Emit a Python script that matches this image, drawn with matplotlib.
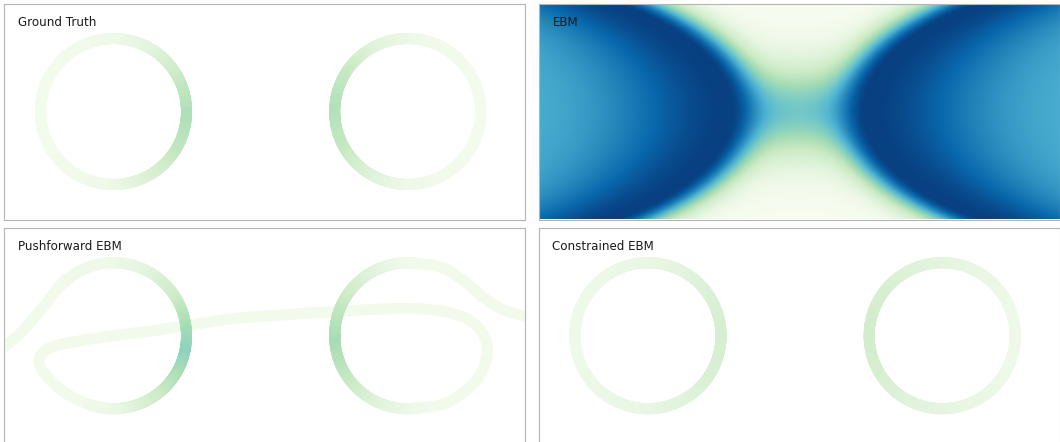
import numpy as np
import matplotlib
matplotlib.use("Agg")
import matplotlib.pyplot as plt
from matplotlib.collections import LineCollection
from matplotlib.path import Path
from matplotlib.patches import PathPatch

W, H, DPI = 1060, 442, 100
CMAP = plt.get_cmap("GnBu")

TITLES = ["Ground Truth", "EBM", "Pushforward EBM", "Constrained EBM"]

# domain / ring geometry (data units)
XLIM = (-3.5, 3.637)
YLIM = (-1.48, 1.48)
RING_CENTERS_X = [-2.0, 2.03]
RING_RADIUS = 1.0

# density level (0..1 on GnBu) around each ring, sampled at these angles (deg)
RING_ANGLES = [0, 30, 60, 90, 120, 150, 180, 210, 240, 270, 300, 330]
GT_LEFT_VALUES = [0.35, 0.27, 0.12, 0.05, 0.03, 0.02, 0.02, 0.02, 0.03, 0.05, 0.15, 0.28]
GT_RIGHT_VALUES = [0.02, 0.02, 0.03, 0.05, 0.12, 0.27, 0.34, 0.28, 0.15, 0.05, 0.03, 0.02]
CON_LEFT_VALUES = [0.19, 0.17, 0.12, 0.08, 0.06, 0.05, 0.05, 0.05, 0.06, 0.08, 0.12, 0.17]
CON_RIGHT_VALUES = [0.04, 0.05, 0.07, 0.10, 0.14, 0.19, 0.22, 0.19, 0.14, 0.10, 0.07, 0.05]

# EBM energy landscape parameters
EBM_CENTER_X = 0.048
EBM_NECK_HALFWIDTH = 0.938
EBM_OPENING_SCALE = 0.904
EBM_INNER_WIDTH_MID = 0.41
EBM_INNER_WIDTH_EDGE = 0.27
EBM_OUTER_WIDTH = 1.6
EBM_OUTER_LEVEL = 0.62
EBM_NECK_LEVEL = 0.52
EBM_NECK_HEIGHT = 0.62

# Pushforward EBM: arcs of the two rings with their density levels
PF_LEFT_ARC_ANGLES = [140, 120, 90, 60, 30, 0, -15, -30, -60, -90, -110]
PF_LEFT_ARC_VALUES = [0.03, 0.04, 0.05, 0.11, 0.24, 0.40, 0.45, 0.38, 0.22, 0.07, 0.04]
PF_RIGHT_ARC_ANGLES = [-80, -90, -120, -150, -180, -210, -240, -270, -280]
PF_RIGHT_ARC_VALUES = [0.04, 0.05, 0.13, 0.28, 0.38, 0.27, 0.13, 0.04, 0.03]
# connecting curve pieces (data units) and their level
PF_A_X = [-3.692, -3.486, -3.281, -3.007, -2.766, -2.574]
PF_A_Y = [-0.301, -0.137, 0.027, 0.342, 0.643, 0.819]
PF_B_X = [-2.174, -2.342, -2.637, -2.897, -3.021, -2.938, -2.733, -2.185, -1.267,
          -0.363, 0.555, 1.473, 2.158, 2.610, 2.925, 3.103, 3.103, 2.966, 2.692,
          2.474, 2.204, 2.030]
PF_B_Y = [-0.985, -0.940, -0.795, -0.575, -0.342, -0.205, -0.123, -0.027, 0.096,
          0.233, 0.301, 0.356, 0.370, 0.315, 0.178, -0.068, -0.342, -0.616, -0.849,
          -0.952, -0.985, -1.000]
PF_C_X = [2.030, 2.204, 2.430, 2.600, 2.740, 2.852, 3.075, 3.309, 3.609, 3.911]
PF_C_Y = [1.000, 0.985, 0.955, 0.890, 0.795, 0.712, 0.520, 0.370, 0.274, 0.250]
PF_PATH_VALUE = 0.03

LW = 11 * 72 / DPI
SPINE_COLOR = "#b4b4b4"

fig = plt.figure(figsize=(W / DPI, H / DPI), dpi=DPI)
pw, ph = 521 / W, 216 / H
axes = [
    fig.add_axes([4 / W, (H - 219.5) / H, pw, ph]),
    fig.add_axes([538.5 / W, (H - 219.5) / H, pw, ph]),
    fig.add_axes([4 / W, (H - 443.7) / H, pw, ph]),
    fig.add_axes([538.5 / W, (H - 443.7) / H, pw, ph]),
]
for ax, title in zip(axes, TITLES):
    ax.set_xlim(*XLIM)
    ax.set_ylim(*YLIM)
    ax.set_xticks([])
    ax.set_yticks([])
    for sp in ax.spines.values():
        sp.set_color(SPINE_COLOR)
        sp.set_linewidth(0.8)
        sp.set_zorder(10)
    ax.text(14 / 521, 1 - 22.5 / 216, title, transform=ax.transAxes,
            fontsize=8.6, ha="left", va="baseline", color="#1a1a1a", zorder=11)


def arc_collection(cx, t_deg, angles, values, periodic):
    t = np.radians(t_deg)
    x = cx + RING_RADIUS * np.cos(t)
    y = RING_RADIUS * np.sin(t)
    pts = np.column_stack([x, y])
    segs = np.stack([pts[:-1], pts[1:]], axis=1)
    tm = (t_deg[:-1] + t_deg[1:]) / 2
    if periodic:
        v = np.interp(tm, angles, values, period=360)
    else:
        order = np.argsort(angles)
        v = np.interp(tm, np.asarray(angles)[order], np.asarray(values)[order])
    return LineCollection(segs, colors=CMAP(v), linewidths=LW,
                          capstyle="round", joinstyle="round", zorder=3)


def full_ring(ax, cx, values):
    t = np.linspace(0, 360, 721)
    ax.add_collection(arc_collection(cx, t, RING_ANGLES, values, True))


def smooth_path(xs, ys):
    P = np.column_stack([xs, ys]).astype(float)
    n = len(P)
    T = np.zeros_like(P)
    T[1:-1] = P[2:] - P[:-2]
    T[0] = P[1] - P[0]
    T[-1] = P[-1] - P[-2]
    T /= np.linalg.norm(T, axis=1, keepdims=True)
    verts = [P[0]]
    codes = [Path.MOVETO]
    for i in range(n - 1):
        L = np.linalg.norm(P[i + 1] - P[i]) / 3
        verts += [P[i] + T[i] * L, P[i + 1] - T[i + 1] * L, P[i + 1]]
        codes += [Path.CURVE4] * 3
    return Path(verts, codes)


# Ground truth
full_ring(axes[0], RING_CENTERS_X[0], GT_LEFT_VALUES)
full_ring(axes[0], RING_CENTERS_X[1], GT_RIGHT_VALUES)

# EBM
gx = np.linspace(XLIM[0], XLIM[1], 1042)
gy = np.linspace(YLIM[0], YLIM[1], 432)
X, Y = np.meshgrid(gx, gy)
ridge = EBM_NECK_HALFWIDTH * np.cosh(Y / EBM_OPENING_SCALE)
s = np.abs(X - EBM_CENTER_X) - ridge
w_in = EBM_INNER_WIDTH_MID + EBM_INNER_WIDTH_EDGE * (Y / 1.41) ** 2
R = np.exp(-(s / w_in) ** 2)
N = EBM_NECK_LEVEL * np.exp(-(Y / EBM_NECK_HEIGHT) ** 2)
inside = 1 - (1 - R) * (1 - N)
outside = EBM_OUTER_LEVEL + (1 - EBM_OUTER_LEVEL) * np.exp(-(s / EBM_OUTER_WIDTH) ** 2)
V = np.where(s < 0, inside, outside)
axes[1].imshow(V, cmap=CMAP, vmin=0, vmax=1, origin="lower",
               extent=[XLIM[0], XLIM[1], YLIM[0], YLIM[1]], aspect="auto",
               interpolation="bilinear")

# Pushforward EBM
for xs, ys in [(PF_A_X, PF_A_Y), (PF_B_X, PF_B_Y), (PF_C_X, PF_C_Y)]:
    axes[2].add_patch(PathPatch(smooth_path(xs, ys), fill=False,
                                edgecolor=CMAP(PF_PATH_VALUE), lw=LW,
                                capstyle="round", joinstyle="round", zorder=2))
tl = np.linspace(PF_LEFT_ARC_ANGLES[0], PF_LEFT_ARC_ANGLES[-1], 400)
axes[2].add_collection(arc_collection(RING_CENTERS_X[0], tl, PF_LEFT_ARC_ANGLES,
                                      PF_LEFT_ARC_VALUES, False))
tr = np.linspace(PF_RIGHT_ARC_ANGLES[0], PF_RIGHT_ARC_ANGLES[-1], 400)
axes[2].add_collection(arc_collection(RING_CENTERS_X[1], tr, PF_RIGHT_ARC_ANGLES,
                                      PF_RIGHT_ARC_VALUES, False))

# Constrained EBM
full_ring(axes[3], RING_CENTERS_X[0], CON_LEFT_VALUES)
full_ring(axes[3], RING_CENTERS_X[1], CON_RIGHT_VALUES)

fig.savefig("out.png", dpi=DPI)
